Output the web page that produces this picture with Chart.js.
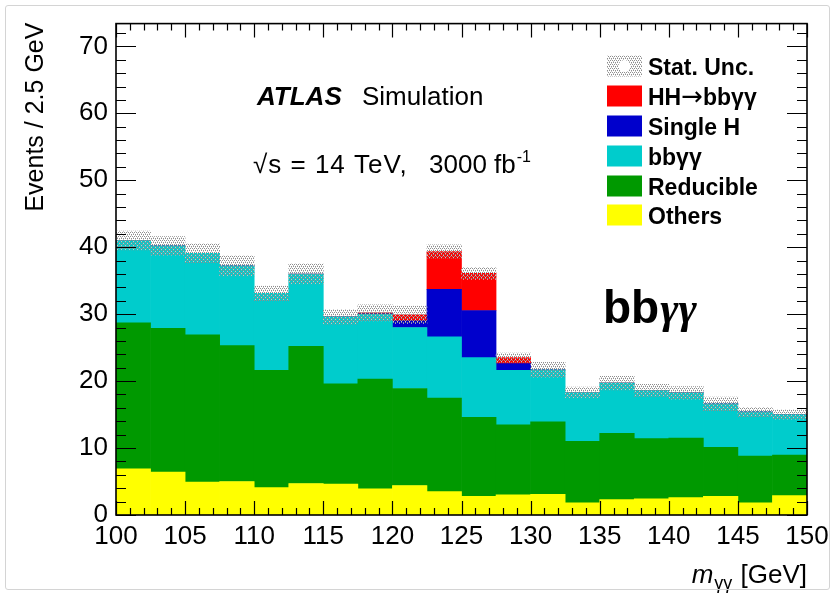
<!DOCTYPE html>
<html>
<head>
<meta charset="utf-8">
<title>m_yy stacked backgrounds</title>
<script src="https://cdn.jsdelivr.net/npm/chart.js@4.4.1/dist/chart.umd.min.js"></script>
<style>
  html, body { margin: 0; padding: 0; background: #fff; }
  #wrap { position: relative; width: 835px; height: 595px; }
  #edge { position: absolute; left: 5px; top: 5px; right: 5px; bottom: 5px; border: 1px solid #d4d4d4; border-radius: 3px; pointer-events: none; }
  canvas { display: block; }
</style>
</head>
<body>
<div id="wrap">
  <canvas id="mgg" width="835" height="595"></canvas>
  <div id="edge"></div>
</div>
<script>
(function () {
    "use strict";

    // bins of 2.5 GeV between 100 and 150 GeV (centres)
    const binCentres = [101.25, 103.75, 106.25, 108.75, 111.25, 113.75, 116.25, 118.75, 121.25, 123.75,
                        126.25, 128.75, 131.25, 133.75, 136.25, 138.75, 141.25, 143.75, 146.25, 148.75];

    // expected events per bin, one array per process (stacked bottom to top)
    const others    = [6.9, 6.4, 4.9, 5.0, 4.1, 4.7, 4.6, 3.9, 4.4, 3.5, 2.8, 3.0, 3.1, 1.8, 2.3, 2.4, 2.6, 2.8, 1.8, 2.9];
    const reducible = [21.8, 21.5, 22.0, 20.3, 17.5, 20.5, 15.0, 16.4, 14.5, 13.95, 11.8, 10.45, 10.8, 9.2, 9.9, 9.0, 8.9, 7.3, 7.0, 6.05];
    const bbgg      = [12.3, 12.3, 12.2, 11.9, 11.5, 10.8, 10.0, 9.7, 9.1, 9.15, 8.9, 8.15, 7.8, 7.3, 7.5, 7.2, 6.75, 6.5, 6.6, 6.05];
    const singleH   = [0, 0, 0, 0, 0, 0, 0, 0.05, 1.0, 7.1, 7.05, 1.0, 0, 0, 0, 0, 0, 0, 0, 0];
    const hhSignal  = [0, 0, 0, 0, 0, 0, 0, 0.15, 0.9, 5.65, 5.55, 0.9, 0, 0, 0, 0, 0, 0, 0, 0];
    // statistical uncertainty on the total (half width of the band)
    const statUnc   = [1.4, 1.4, 1.4, 1.5, 1.1, 1.5, 1.1, 1.2, 1.3, 1.0, 0.9, 0.7, 1.1, 0.8, 1.0, 0.9, 0.95, 1.0, 0.7, 0.7];

    const xTicks = [100, 105, 110, 115, 120, 125, 130, 135, 140, 145, 150];
    const yTicks = [0, 10, 20, 30, 40, 50, 60, 70];
    const yMax = 73.4;

    const FONT = "'Liberation Sans', Arial, Helvetica, sans-serif";
    const SERIF = "'Liberation Serif', 'DejaVu Serif', serif";

    const ctx = document.getElementById("mgg").getContext("2d");

    // ROOT-like dotted fill for the uncertainty band
    function dotPattern() {
        const c = document.createElement("canvas");
        c.width = 4;
        c.height = 4;
        const g = c.getContext("2d");
        g.fillStyle = "#8e8e8e";
        g.fillRect(0, 0, 1, 1);
        g.fillRect(2, 0, 1, 1);
        g.fillRect(1, 2, 1, 1);
        g.fillRect(3, 2, 1, 1);
        g.fillStyle = "#c6c6c6";
        g.fillRect(1, 1, 1, 1);
        g.fillRect(3, 3, 1, 1);
        return ctx.createPattern(c, "repeat");
    }
    const uncFill = dotPattern();

    const points = (arr) => binCentres.map((x, i) => ({ x: x, y: arr[i] }));
    const totals = binCentres.map((_, i) => others[i] + reducible[i] + bbgg[i] + singleH[i] + hhSignal[i]);
    const band = binCentres.map((x, i) => ({ x: x, y: [totals[i] - statUnc[i], totals[i] + statUnc[i]] }));

    const colours = {
        others: "#ffff00",
        reducible: "#009900",
        bbgg: "#00cccc",
        singleH: "#0000cc",
        hh: "#ff0000",
    };

    // legend entries, top to bottom
    const legendLabels = ["Stat. Unc.", "HH\u2192bb\u03b3\u03b3", "Single H", "bb\u03b3\u03b3", "Reducible", "Others"];
    const legendFills  = [null, colours.hh, colours.singleH, colours.bbgg, colours.reducible, colours.others];

    // draws a label, switching to a wider font for the arrow
    function legendText(c, text, x, y) {
        const parts = text.split("\u2192");
        let cx = x;
        parts.forEach((p, k) => {
            if (k > 0) {
                c.font = "26px 'DejaVu Sans', sans-serif";
                c.fillText("\u2192", cx, y);
                cx += c.measureText("\u2192").width;
            }
            c.font = "bold 23px " + FONT;
            c.fillText(p, cx, y);
            cx += c.measureText(p).width;
        });
    }

    // frame, inward ticks on all four sides, legend and labels
    const rootDecor = {
        id: "rootDecor",
        afterDatasetsDraw(chart) {
            const { ctx: c, chartArea: a, scales: { x, y } } = chart;
            c.save();

            c.strokeStyle = "#000";
            c.lineWidth = 1.2;
            c.beginPath();
            for (let v = x.min; v <= x.max + 1e-6; v += 1) {
                const px = Math.round(x.getPixelForValue(v)) + 0.5;
                const len = Math.abs(v % 5) < 1e-6 ? 14 : 7;
                c.moveTo(px, a.bottom); c.lineTo(px, a.bottom - len);
                c.moveTo(px, a.top); c.lineTo(px, a.top + len);
            }
            for (let v = 0; v <= y.max + 1e-6; v += 2) {
                const py = Math.round(y.getPixelForValue(v)) + 0.5;
                const len = v % 10 === 0 ? 20 : 10;
                c.moveTo(a.left, py); c.lineTo(a.left + len, py);
                c.moveTo(a.right, py); c.lineTo(a.right - len, py);
            }
            c.stroke();

            c.lineWidth = 1.6;
            c.strokeRect(a.left, a.top, a.right - a.left, a.bottom - a.top);

            c.fillStyle = "#000";
            c.textBaseline = "alphabetic";
            c.textAlign = "left";

            // experiment label
            c.font = "italic bold 26px " + FONT;
            c.fillText("ATLAS", 257, 105);
            c.font = "26px " + FONT;
            c.fillText("Simulation", 362, 105);

            c.font = "26px " + FONT;
            c.letterSpacing = "1px";
            c.fillText("\u221as = 14 TeV,", 253, 173);
            c.letterSpacing = "0px";
            c.fillText("3000 fb", 429, 173);
            const fbW = c.measureText("3000 fb").width;
            c.font = "16px " + FONT;
            c.fillText("-1", 429 + fbW + 1, 162);

            // channel tag
            c.font = "bold 46px " + FONT;
            c.fillText("bb", 603, 323);
            const bbW = c.measureText("bb").width;
            c.font = "italic bold 44px " + SERIF;
            c.fillText("\u03b3\u03b3", 603 + bbW + 1, 323);

            // legend
            const rowY = [66, 96, 126, 156, 186, 215];
            for (let i = 0; i < legendLabels.length; i++) {
                const bx = 607, by = rowY[i] - 10.5, bw = 35, bh = 21;
                if (legendFills[i]) {
                    c.fillStyle = legendFills[i];
                    c.fillRect(bx, by, bw, bh);
                } else {
                    c.fillStyle = uncFill;
                    c.fillRect(bx, by, bw, bh);
                    c.fillStyle = "#fff";
                    c.beginPath();
                    c.arc(bx + bw / 2, rowY[i], 6, 0, Math.PI * 2);
                    c.fill();
                }
                c.fillStyle = "#000";
                legendText(c, legendLabels[i], 648, rowY[i] + 8.5);
            }

            // axis titles
            c.font = "25px " + FONT;
            c.textAlign = "right";
            c.save();
            c.translate(43, a.top - 1);
            c.rotate(-Math.PI / 2);
            c.fillText("Events / 2.5 GeV", 0, 0);
            c.restore();

            const unit = " [GeV]";
            c.font = "26px " + FONT;
            const unitW = c.measureText(unit).width;
            c.fillText(unit, a.right, 583);
            c.font = "18px " + FONT;
            const subW = c.measureText("\u03b3\u03b3").width;
            c.fillText("\u03b3\u03b3", a.right - unitW - 1, 589);
            c.font = "italic 26px " + FONT;
            c.fillText("m", a.right - unitW - subW - 2, 583);

            c.restore();
        },
    };

    const barDefaults = {
        grouped: false,
        barPercentage: 1,
        categoryPercentage: 1,
        borderWidth: 0,
    };

    new Chart(ctx, {
        type: "bar",
        data: {
            datasets: [
                { label: "Others", data: points(others), backgroundColor: colours.others, ...barDefaults },
                { label: "Reducible", data: points(reducible), backgroundColor: colours.reducible, ...barDefaults },
                { label: "bb\u03b3\u03b3", data: points(bbgg), backgroundColor: colours.bbgg, ...barDefaults },
                { label: "Single H", data: points(singleH), backgroundColor: colours.singleH, ...barDefaults },
                { label: "HH\u2192bb\u03b3\u03b3", data: points(hhSignal), backgroundColor: colours.hh, ...barDefaults },
                { label: "Stat. Unc.", data: band, backgroundColor: uncFill, yAxisID: "yUnc", order: -1, ...barDefaults },
            ],
        },
        options: {
            responsive: false,
            animation: false,
            events: [],
            layout: { padding: { top: 21, right: 28, left: 0, bottom: 0 } },
            plugins: {
                legend: { display: false },
                tooltip: { enabled: false },
            },
            scales: {
                x: {
                    type: "linear",
                    min: 100,
                    max: 150,
                    offset: false,
                    stacked: true,
                    afterBuildTicks: (scale) => {
                        scale.ticks = xTicks.map((v) => ({ value: v }));
                    },
                    afterFit: (scale) => { scale.height = 80; },
                    ticks: {
                        autoSkip: false,
                        maxRotation: 0,
                        padding: 6,
                        color: "#000",
                        font: { family: FONT, size: 26 },
                    },
                    grid: { display: false, drawTicks: false, offset: false },
                    border: { display: false },
                },
                y: {
                    min: 0,
                    max: yMax,
                    stacked: true,
                    afterBuildTicks: (scale) => {
                        scale.ticks = yTicks.map((v) => ({ value: v }));
                    },
                    afterFit: (scale) => { scale.width = 116; },
                    ticks: {
                        padding: 8,
                        color: "#000",
                        font: { family: FONT, size: 26 },
                    },
                    grid: { display: false, drawTicks: false },
                    border: { display: false },
                },
                yUnc: {
                    display: false,
                    min: 0,
                    max: yMax,
                    stacked: false,
                },
            },
        },
        plugins: [rootDecor],
    });
})();
</script>
</body>
</html>
